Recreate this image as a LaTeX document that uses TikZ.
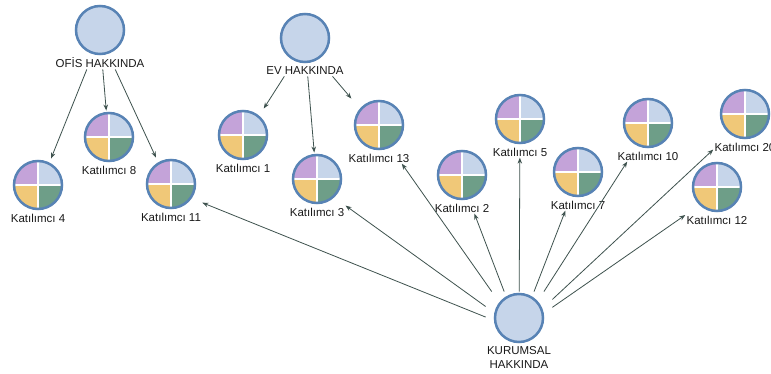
\documentclass[tikz,border=0pt]{standalone}
\usepackage{fontspec}
\setmainfont{Liberation Sans}
\usetikzlibrary{fit,arrows.meta}

\definecolor{ring}{RGB}{88,131,181}
\definecolor{disc}{RGB}{198,213,234}
\definecolor{qpurple}{RGB}{196,163,217}
\definecolor{qblue}{RGB}{198,213,234}
\definecolor{qyellow}{RGB}{240,200,120}
\definecolor{qgreen}{RGB}{110,158,136}
\definecolor{link}{RGB}{62,82,78}

\tikzset{
  topic/.style={circle, draw=ring, fill=disc, line width=2.5pt, minimum size=48pt, inner sep=0pt},
  member/.style={topic,
    path picture={
      \coordinate (pc) at (path picture bounding box.center);
      \fill[qpurple] (pc) rectangle (path picture bounding box.north west);
      \fill[qblue]   (pc) rectangle (path picture bounding box.north east);
      \fill[qyellow] (pc) rectangle (path picture bounding box.south west);
      \fill[qgreen]  (pc) rectangle (path picture bounding box.south east);
      \draw[white, line width=2.8pt]
        (pc -| path picture bounding box.west) -- (pc -| path picture bounding box.east)
        (pc |- path picture bounding box.north) -- (pc |- path picture bounding box.south);
    }},
  caption/.style={font=\fontsize{11.5}{14}\selectfont, inner sep=0pt, align=center, text=black!90},
  group/.style={inner sep=1pt},
  arr/.style={draw=link, line width=0.8pt, -{Stealth[length=6pt,width=4.5pt]}},
}

% a circle with its caption underneath, wrapped in one box used by the arrows
\newcommand{\bubble}[5]{%
  \node[#1] (#2-c) at (#3,#4) {};
  \node[caption] (#2-l) at (#3,#4+33) {#5};
  \node[group, fit=(#2-c)(#2-l)] (#2) {};
}

\begin{document}
\begin{tikzpicture}[x=1pt,y=-1pt]
  \useasboundingbox (0,0) rectangle (771,374);
  \fill[white] (0,0) rectangle (771,374);

  % topic nodes
  \bubble{topic}{ofis}{100}{30}{OF\.IS HAKKINDA}
  \bubble{topic}{ev}{305}{38}{EV HAKKINDA}
  \node[topic] (kur-c) at (519,318) {};
  \node[caption] (kur-l) at (519,357) {KURUMSAL\\HAKKINDA};
  \node[group, fit=(kur-c)(kur-l)] (kur) {};

  % participants
  \bubble{member}{k8}{109}{137}{Katılımcı 8}
  \bubble{member}{k4}{38}{185}{Katılımcı 4}
  \bubble{member}{k11}{171}{184}{Katılımcı 11}
  \bubble{member}{k1}{243}{135}{Katılımcı 1}
  \bubble{member}{k3}{317}{179}{Katılımcı 3}
  \bubble{member}{k13}{379}{125}{Katılımcı 13}
  \bubble{member}{k2}{462}{175}{Katılımcı 2}
  \bubble{member}{k5}{520}{119}{Katılımcı 5}
  \bubble{member}{k7}{578}{172}{Katılımcı 7}
  \bubble{member}{k10}{648}{123}{Katılımcı 10}
  \bubble{member}{k20}{745}{114}{Katılımcı 20}
  \bubble{member}{k12}{717}{187}{Katılımcı 12}

  % links
  \draw[arr] (ofis) -- (k4);
  \draw[arr] (ofis) -- (k8);
  \draw[arr] (ofis) -- (k11);
  \draw[arr] (ev) -- (k1);
  \draw[arr] (ev) -- (k3);
  \draw[arr] (ev) -- (k13);
  \foreach \t in {k11,k3,k13,k2,k5,k7,k10,k20,k12}
    \draw[arr] (kur) -- (\t);
\end{tikzpicture}
\end{document}
